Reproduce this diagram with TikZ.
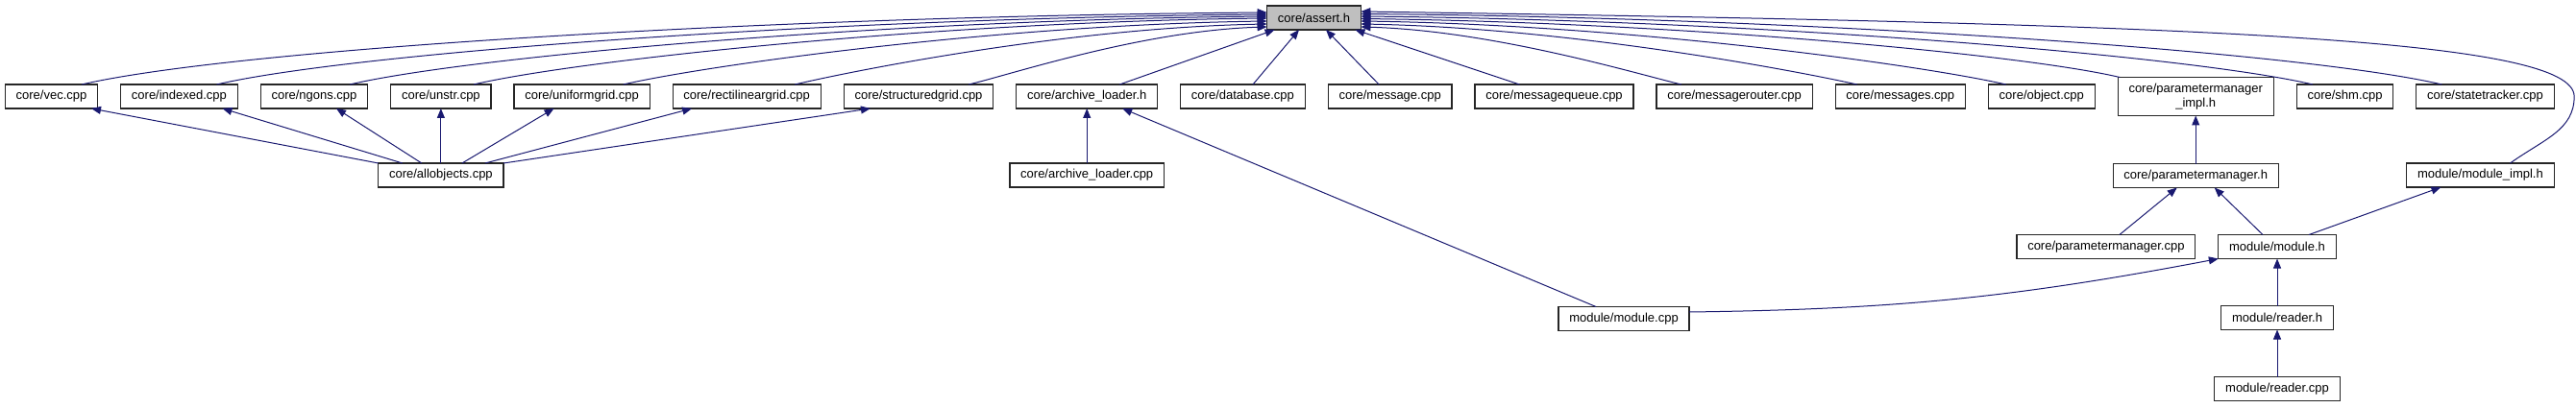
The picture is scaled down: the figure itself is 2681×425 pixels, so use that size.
\documentclass[tikz,border=0pt]{standalone}
\usepackage{fontspec}
\setmainfont{Liberation Sans}
\usetikzlibrary{positioning,arrows.meta}
\definecolor{edgeblue}{RGB}{25,25,112}
\definecolor{focusgray}{RGB}{191,191,191}

\begin{document}
\begin{tikzpicture}[
    x=1pt, y=1pt,
    font=\fontsize{13}{15}\selectfont,
    node distance=24pt,
    filenode/.style={rectangle, draw=black!85, line width=1.2pt, fill=white, align=center, inner xsep=11.3pt, inner ysep=0pt, minimum height=25pt, outer sep=0pt},
    focusnode/.style={filenode, fill=focusgray},
    inc/.style={-{Triangle[length=10pt,width=8pt]}, draw=edgeblue, line width=1pt}
  ]
    \useasboundingbox (0,0) rectangle (2681,-425);

    % Header under inspection
    \node[focusnode] (assert) at (1367.5,-18.5) {core/assert.h};

    % Direct includers
    \node[filenode] (vec) at (53.5,-100.5) {core/vec.cpp};
    \node[filenode, right=of vec] (indexed) {core/indexed.cpp};
    \node[filenode, right=of indexed] (ngons) {core/ngons.cpp};
    \node[filenode, right=of ngons] (unstr) {core/unstr.cpp};
    \node[filenode, right=of unstr] (uniform) {core/uniformgrid.cpp};
    \node[filenode, right=of uniform] (rectlin) {core/rectilineargrid.cpp};
    \node[filenode, right=of rectlin] (structured) {core/structuredgrid.cpp};
    \node[filenode, right=of structured] (alh) {core/archive\_loader.h};
    \node[filenode, right=of alh] (database) {core/database.cpp};
    \node[filenode, right=of database] (message) {core/message.cpp};
    \node[filenode, right=of message] (mqueue) {core/messagequeue.cpp};
    \node[filenode, right=of mqueue] (mrouter) {core/messagerouter.cpp};
    \node[filenode, right=of mrouter] (messages) {core/messages.cpp};
    \node[filenode, right=of messages] (object) {core/object.cpp};
    \node[filenode, right=of object, minimum height=40pt] (pmimpl) {core/parametermanager\\\_impl.h};
    \node[filenode, right=of pmimpl] (shm) {core/shm.cpp};
    \node[filenode, right=of shm] (tracker) {core/statetracker.cpp};

    % Indirect includers
    \node[filenode, below=57pt of unstr] (allobj) {core/allobjects.cpp};
    \node[filenode, below=57pt of alh] (alcpp) {core/archive\_loader.cpp};
    \node[filenode, below=50pt of pmimpl] (pmh) {core/parametermanager.h};
    \node[filenode, below left=57pt and 0pt of tracker.south east] (modimpl) {module/module\_impl.h};
    \node[filenode] (modh) at (2370,-257) {module/module.h};
    \node[filenode, left=of modh] (pmcpp) {core/parametermanager.cpp};
    \node[filenode, below=49pt of modh] (readerh) {module/reader.h};
    \node[filenode, below=49pt of readerh] (readercpp) {module/reader.cpp};
    \node[filenode] (modcpp) at (1690,-332) {module/module.cpp};

    % Edges into core/assert.h
    \draw[inc] ([xshift=31.5pt]vec.north) .. controls +(160,37) and +(-518,-4) .. ([yshift=5.5pt]assert.west);
    \draw[inc] ([xshift=39pt]indexed.north) .. controls +(142,33) and +(-459,-4) .. ([yshift=3.5pt]assert.west);
    \draw[inc] ([xshift=37pt]ngons.north) .. controls +(124,29) and +(-401,-4) .. ([yshift=1.5pt]assert.west);
    \draw[inc] ([xshift=34pt]unstr.north) .. controls +(107,25) and +(-347,-4) .. ([yshift=-0.5pt]assert.west);
    \draw[inc] ([xshift=43pt]uniform.north) .. controls +(87,20) and +(-281,-4) .. ([yshift=-3.5pt]assert.west);
    \draw[inc] ([xshift=50pt]rectlin.north) .. controls +(64,15) and +(-206,-4) .. ([yshift=-6.5pt]assert.west);
    \draw[inc] ([xshift=52pt]structured.north) .. controls +(40,9) and +(-131,-4) .. ([yshift=-9.5pt]assert.west);
    \draw[inc] ([xshift=34pt]alh.north) -- ([xshift=8pt]assert.south west);
    \draw[inc] ([xshift=10.5pt]database.north) -- ([xshift=-15.5pt]assert.south);
    \draw[inc] ([xshift=-11.5pt]message.north) -- ([xshift=12.5pt]assert.south);
    \draw[inc] ([xshift=-36pt]mqueue.north) -- ([xshift=-6pt]assert.south east);
    \draw[inc] ([xshift=-55pt]mrouter.north) .. controls +(-43,10) and +(139,-4) .. ([yshift=-9.5pt]assert.east);
    \draw[inc] ([xshift=-45pt]messages.north) .. controls +(-67,15) and +(215,-4) .. ([yshift=-6.5pt]assert.east);
    \draw[inc] ([xshift=-37pt]object.north) .. controls +(-87,20) and +(281,-4) .. ([yshift=-3.5pt]assert.east);
    \draw[inc] ([xshift=2pt]pmimpl.north west) .. controls +(-102,24) and +(331,-4) .. ([yshift=-1pt]assert.east);
    \draw[inc] ([xshift=-33.5pt]shm.north) .. controls +(-128,30) and +(414,-4) .. ([yshift=1.5pt]assert.east);
    \draw[inc] ([xshift=-45pt]tracker.north) .. controls +(-146,34) and +(471,-4) .. ([yshift=4pt]assert.east);
    \draw[inc] ([xshift=31pt]modimpl.north) .. controls +(35,25) and +(0,-35) .. ([xshift=21pt]tracker.east)
      .. controls +(0,60) and +(883,-13) .. ([yshift=6.5pt]assert.east);

    % Edges between includers
    \draw[inc] (allobj.north west) -- ([xshift=41.5pt]vec.south);
    \draw[inc] ([xshift=-40pt]allobj.north) -- ([xshift=45pt]indexed.south);
    \draw[inc] ([xshift=-20pt]allobj.north) -- ([xshift=23pt]ngons.south);
    \draw[inc] (allobj) -- (unstr);
    \draw[inc] ([xshift=22pt]allobj.north) -- ([xshift=-29pt]uniform.south);
    \draw[inc] ([xshift=46pt]allobj.north) -- ([xshift=-57pt]rectlin.south);
    \draw[inc] (allobj.north east) -- ([xshift=-50pt]structured.south);
    \draw[inc] (alcpp) -- (alh);
    \draw[inc] ([xshift=-29pt]modcpp.north) -- ([xshift=37pt]alh.south);
    \draw[inc] (pmh) -- (pmimpl);
    \draw[inc] ([xshift=14pt]pmcpp.north) -- ([xshift=-19.5pt]pmh.south);
    \draw[inc] ([xshift=-15pt]modh.north) -- ([xshift=19.5pt]pmh.south);
    \draw[inc] ([xshift=33pt]modh.north) -- ([xshift=-41pt]modimpl.south);
    \draw[inc] ([yshift=7pt]modcpp.east) to[bend right=5] (modh.south west);
    \draw[inc] (readerh) -- (modh);
    \draw[inc] (readercpp) -- (readerh);
  \end{tikzpicture}
\end{document}
